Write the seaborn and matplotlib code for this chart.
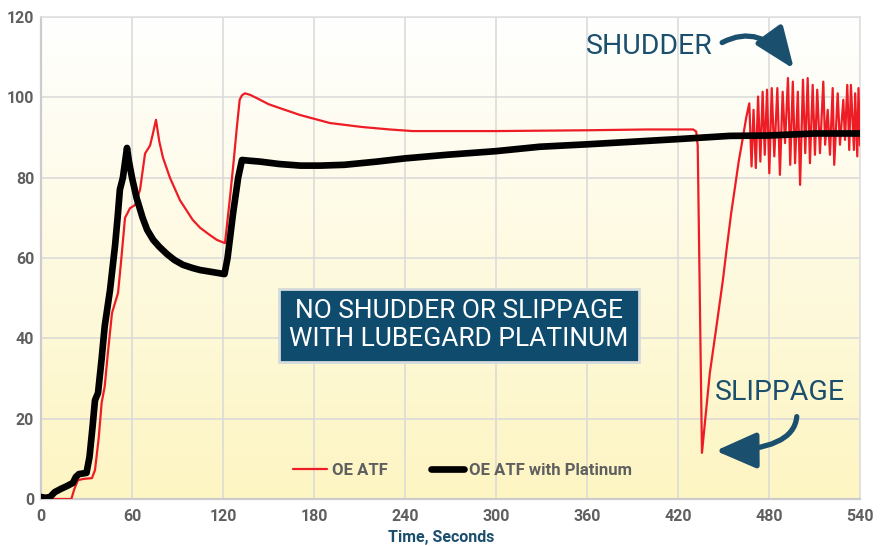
import numpy as np
import pandas as pd
import matplotlib
matplotlib.use("Agg")
import matplotlib.pyplot as plt
import seaborn as sns
from matplotlib.patches import FancyArrowPatch

# ---- data ----
plat_x = [0, 3, 6, 9, 13, 17, 21, 23, 25, 30, 32, 34, 35.6, 37.6, 40, 42, 45.5, 48.8, 50.5, 52, 54,
          56.7, 58, 60, 63, 67, 70, 74, 78, 83, 88, 93.6, 100, 105, 113, 121, 123, 126.6, 130, 132.5,
          138, 144.4, 157, 171, 184, 200, 221.5, 240, 267.7, 300, 329, 360, 388, 420, 454, 480, 510, 540]
plat_y = [0.5, 0.3, 0.5, 1.7, 2.5, 3.2, 4, 5.5, 6.2, 6.5, 10.5, 18, 24.6, 26.4, 35, 43, 52, 63, 70, 77, 80,
          87.4, 84, 80, 75, 70, 67, 64.5, 62.8, 61, 59.5, 58.3, 57.5, 57, 56.5, 56, 60, 71, 80, 84.4,
          84.2, 84, 83.4, 83, 83, 83.2, 84, 84.8, 85.7, 86.6, 87.7, 88.3, 88.9, 89.6, 90.4, 90.5, 91, 91]

oe_x = [0, 20, 22, 24.4, 28, 33.6, 35.6, 38, 40, 42, 44, 46.8, 50.8, 53, 55.4, 58.7, 62, 65.3, 68.6, 71.9,
        73.5, 75.8, 78, 80.4, 85, 91.6, 100, 105, 111.4, 116, 121.3, 124.6, 127, 129, 131, 132.5, 134.5,
        138, 144.4, 150, 157.6, 170.8, 190.5, 212, 230, 245, 300, 360, 400, 430, 432, 433, 435.8, 438,
        441, 445, 449.6, 452, 455, 457.6, 460, 462.8, 465,
        467, 468.5, 469.8, 471.3, 472.8, 474.3, 475.8, 477.2, 478.7, 480.2, 481.8, 483.5, 485.5, 487.2,
        489, 490.6, 492.5, 494, 495.7, 497.2, 499, 500.5, 502.4, 503.9, 505.5, 507, 508.8, 510.3, 511.8,
        513.6, 515.8, 517, 518.7, 520.2, 522, 523, 525.3, 526.8, 529, 530.1, 531.6, 532.9, 534, 536,
        536.8, 538.2, 539, 540]
oe_y = [0, 0, 2.5, 4.7, 5, 5.2, 7.2, 15, 24, 28, 36, 46.3, 51.3, 60, 70, 72.4, 73.2, 77, 86, 88,
        90.5, 94.4, 89, 85, 80, 74.4, 69.5, 67.5, 65.7, 64.5, 63.7, 75, 84, 92, 99.4, 100.5, 101,
        100.6, 99.4, 98.3, 97.3, 95.6, 93.6, 92.6, 92, 91.6, 91.6, 91.8, 92, 92, 91.5, 88, 11.5, 20,
        31.4, 42, 54.5, 62, 71, 77.7, 84, 90, 95,
        98.5, 82.8, 96.9, 82.4, 100.2, 84.0, 101.4, 85.7, 101.9, 81.1, 102.3, 85.3, 102.3, 80.7,
        101.4, 88.6, 104.8, 83.2, 103.9, 83.6, 101.4, 78.2, 104.4, 86.1, 104.8, 83.6, 103.1, 85.7, 101.9,
        86.1, 103.9, 88.2, 96.9, 85.7, 102.3, 83.2, 101.0, 88.2, 99.4, 89.4, 103.1, 86.9, 103.1, 86.9,
        101.0, 85.3, 102.3, 88]

x_ticks = [0, 60, 120, 180, 240, 300, 360, 420, 480, 540]
y_ticks = [0, 20, 40, 60, 80, 100, 120]
series_names = ["OE ATF", "OE ATF with Platinum"]

sns.set_theme(style="white")
FAM = ["Roboto", "DejaVu Sans"]
plt.rcParams["font.family"] = FAM

GRAY = "#5f5f5f"
BLUE = "#1b4f6e"
RED = "#ee1c25"

fig = plt.figure(figsize=(8.88, 5.46), dpi=100)
ax = fig.add_axes([41/888, 1 - 499/546, (860-41)/888, (499-17)/546])

# gradient background (white at top, pale yellow at bottom)
grad = np.linspace(0, 1, 256).reshape(-1, 1)
top = np.array([1.0, 1.0, 1.0])
bot = np.array([0xfd, 0xf5, 0xc2]) / 255.0
img = top[None, None, :] * (1 - grad[:, :, None]) + bot[None, None, :] * grad[:, :, None]
ax.imshow(img, extent=[0, 540, 0, 120], origin="upper", aspect="auto", zorder=0)

df_oe = pd.DataFrame({"x": oe_x, "y": oe_y})
df_pl = pd.DataFrame({"x": plat_x, "y": plat_y})
sns.lineplot(data=df_oe, x="x", y="y", ax=ax, color=RED, lw=1.6, label=series_names[0],
             sort=False, estimator=None, zorder=3)
sns.lineplot(data=df_pl, x="x", y="y", ax=ax, color="black", lw=4.8, label=series_names[1],
             sort=False, estimator=None, zorder=4, solid_capstyle="round", solid_joinstyle="round")

ax.set_xlim(0, 540)
ax.set_ylim(0, 120)
ax.set_xticks(x_ticks)
ax.set_yticks(y_ticks)
ax.grid(True, color="#d9d9d9", lw=1.1, zorder=1)
ax.set_axisbelow(True)
ax.tick_params(axis="both", length=0, labelsize=11.5, labelcolor=GRAY)
ax.tick_params(axis="y", pad=5)
ax.tick_params(axis="x", pad=7)
for lab in ax.get_xticklabels() + ax.get_yticklabels():
    lab.set_fontweight("bold")
for s in ["left", "bottom"]:
    ax.spines[s].set_color("#cccccc")
    ax.spines[s].set_linewidth(1.6)
for s in ["right", "top"]:
    ax.spines[s].set_color("#e0e0e0")
    ax.spines[s].set_linewidth(1.2)

ax.set_xlabel("Time, Seconds", fontsize=11.5, fontweight="bold", color=BLUE)
ax.xaxis.set_label_coords((441 - 41) / 819, (499 - 530) / 482)
ax.set_ylabel("")

leg = ax.legend(loc="center", bbox_to_anchor=(0.515, 0.06), ncol=2, frameon=False,
                handlelength=2.0, columnspacing=2.6, handletextpad=0.3,
                prop={"weight": "bold", "size": 12})
for t in leg.get_texts():
    t.set_color(GRAY)

# annotation box
ax.text(275.6, 43.3, "NO SHUDDER OR SLIPPAGE\nWITH LUBEGARD PLATINUM", ha="center", va="center",
        fontsize=19, color="white", linespacing=1.2, zorder=6,
        bbox=dict(boxstyle="square,pad=0.4", facecolor="#0e4b6d", edgecolor="#d5dadd", lw=2))

ax.text(443, 112.6, "SHUDDER", ha="right", va="center", fontsize=20.5, color=BLUE, zorder=6)
ax.text(530, 26.4, "SLIPPAGE", ha="right", va="center", fontsize=20.5, color=BLUE, zorder=6)

arr1 = FancyArrowPatch((447.5, 113.3), (497.5, 106.5),
                       connectionstyle="angle3,angleA=30,angleB=125",
                       arrowstyle="-|>,head_length=1.25,head_width=0.5", mutation_scale=20,
                       color=BLUE, lw=3.8, capstyle="round", zorder=6)
ax.add_patch(arr1)
arr2 = FancyArrowPatch((498.4, 21.2), (443, 12.0),
                       connectionstyle="angle3,angleA=90,angleB=0",
                       arrowstyle="-|>,head_length=1.25,head_width=0.55", mutation_scale=20,
                       color=BLUE, lw=3.8, capstyle="round", zorder=6)
ax.add_patch(arr2)

fig.savefig("out.png", dpi=100, facecolor="white")
